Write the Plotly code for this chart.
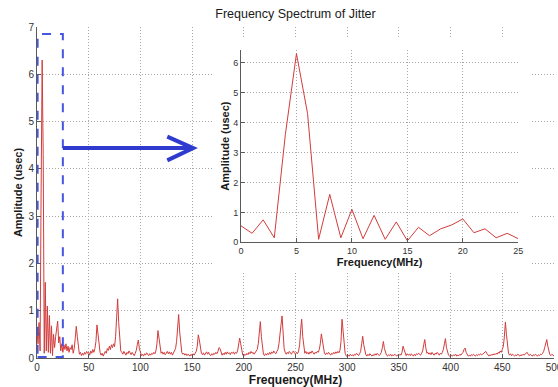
import plotly.graph_objects as go

# ---------------- data ----------------
# zoomed band 0..25 MHz (1 MHz bins)
low_band = [0.55, 0.30, 0.75, 0.15, 3.60, 6.30, 4.30, 0.10, 1.60, 0.15,
            1.10, 0.12, 0.90, 0.10, 0.68, 0.05, 0.50, 0.22, 0.45, 0.58,
            0.78, 0.32, 0.45, 0.15, 0.30, 0.12]
band_026_049 = [0.28, 0.18, 0.30, 0.15, 0.25, 0.12, 0.22, 0.18, 0.28, 0.10,
                0.20, 0.42, 0.67, 0.45, 0.20, 0.08, 0.12, 0.05, 0.10, 0.06,
                0.12, 0.08, 0.14, 0.10]
band_050_099 = [0.12, 0.06, 0.15, 0.10, 0.18, 0.12, 0.20, 0.35, 0.70, 0.50,
                0.22, 0.12, 0.06, 0.10, 0.04, 0.08, 0.14, 0.10, 0.20, 0.16,
                0.25, 0.18, 0.28, 0.22, 0.30, 0.24, 0.45, 0.85, 1.25, 0.75,
                0.30, 0.15, 0.12, 0.08, 0.14, 0.10, 0.06, 0.12, 0.09, 0.15,
                0.10, 0.07, 0.12, 0.08, 0.05, 0.10, 0.16, 0.28, 0.38, 0.20]
band_100_149 = [0.10, 0.05, 0.08, 0.04, 0.09, 0.06, 0.11, 0.07, 0.05, 0.09,
                0.06, 0.10, 0.08, 0.12, 0.09, 0.15, 0.30, 0.58, 0.42, 0.18,
                0.10, 0.13, 0.08, 0.12, 0.07, 0.10, 0.14, 0.09, 0.13, 0.08,
                0.12, 0.06, 0.10, 0.16, 0.20, 0.35, 0.70, 0.92, 0.55, 0.25,
                0.12, 0.08, 0.10, 0.06, 0.09, 0.05, 0.08, 0.06, 0.04, 0.08]
band_150_199 = [0.05, 0.09, 0.06, 0.10, 0.14, 0.25, 0.49, 0.38, 0.18, 0.10,
                0.07, 0.11, 0.06, 0.09, 0.13, 0.08, 0.12, 0.07, 0.05, 0.09,
                0.06, 0.10, 0.08, 0.12, 0.09, 0.14, 0.22, 0.20, 0.10, 0.06,
                0.10, 0.07, 0.12, 0.08, 0.13, 0.09, 0.11, 0.07, 0.12, 0.10,
                0.13, 0.08, 0.12, 0.10, 0.15, 0.25, 0.42, 0.30, 0.12, 0.06]
band_200_249 = [0.04, 0.08, 0.06, 0.10, 0.07, 0.12, 0.09, 0.14, 0.10, 0.12,
                0.08, 0.11, 0.15, 0.18, 0.30, 0.55, 0.77, 0.45, 0.18, 0.08,
                0.05, 0.09, 0.06, 0.10, 0.07, 0.12, 0.08, 0.13, 0.10, 0.15,
                0.11, 0.09, 0.14, 0.18, 0.30, 0.45, 0.70, 0.89, 0.48, 0.20,
                0.12, 0.08, 0.12, 0.09, 0.14, 0.10, 0.08, 0.12, 0.15, 0.10]
band_250_299 = [0.08, 0.12, 0.09, 0.15, 0.28, 0.60, 0.82, 0.45, 0.18, 0.10,
                0.14, 0.09, 0.12, 0.08, 0.13, 0.10, 0.15, 0.11, 0.08, 0.12,
                0.10, 0.14, 0.12, 0.18, 0.30, 0.51, 0.38, 0.16, 0.10, 0.07,
                0.11, 0.08, 0.12, 0.09, 0.06, 0.10, 0.08, 0.12, 0.09, 0.13,
                0.10, 0.14, 0.11, 0.16, 0.35, 0.82, 0.60, 0.25, 0.10, 0.05]
band_300_349 = [0.03, 0.06, 0.04, 0.08, 0.05, 0.07, 0.04, 0.08, 0.06, 0.10,
                0.07, 0.05, 0.09, 0.14, 0.30, 0.46, 0.28, 0.12, 0.07, 0.04,
                0.08, 0.05, 0.09, 0.06, 0.04, 0.07, 0.05, 0.09, 0.06, 0.10,
                0.07, 0.05, 0.08, 0.12, 0.22, 0.35, 0.20, 0.10, 0.06, 0.04,
                0.07, 0.05, 0.08, 0.04, 0.07, 0.05, 0.08, 0.06, 0.04, 0.07]
band_350_399 = [0.05, 0.08, 0.06, 0.12, 0.25, 0.18, 0.08, 0.05, 0.09, 0.06,
                0.08, 0.05, 0.09, 0.06, 0.04, 0.08, 0.05, 0.09, 0.07, 0.10,
                0.08, 0.06, 0.10, 0.15, 0.28, 0.39, 0.22, 0.10, 0.12, 0.08,
                0.11, 0.07, 0.12, 0.09, 0.06, 0.10, 0.08, 0.12, 0.09, 0.06,
                0.10, 0.08, 0.12, 0.18, 0.30, 0.41, 0.22, 0.10, 0.06, 0.04]
band_400_449 = [0.03, 0.06, 0.04, 0.07, 0.05, 0.08, 0.04, 0.06, 0.05, 0.08,
                0.06, 0.09, 0.12, 0.18, 0.21, 0.12, 0.07, 0.04, 0.06, 0.04,
                0.07, 0.05, 0.08, 0.05, 0.04, 0.07, 0.05, 0.08, 0.06, 0.09,
                0.07, 0.08, 0.10, 0.13, 0.14, 0.10, 0.06, 0.04, 0.07, 0.05,
                0.08, 0.06, 0.09, 0.07, 0.10, 0.08, 0.12, 0.10, 0.15, 0.12]
band_450_500 = [0.18, 0.25, 0.45, 0.76, 0.50, 0.22, 0.10, 0.06, 0.09, 0.05,
                0.08, 0.06, 0.04, 0.07, 0.05, 0.08, 0.06, 0.04, 0.07, 0.05,
                0.08, 0.06, 0.08, 0.10, 0.12, 0.08, 0.05, 0.08, 0.06, 0.04,
                0.07, 0.05, 0.08, 0.06, 0.04, 0.07, 0.05, 0.08, 0.07, 0.10,
                0.14, 0.22, 0.33, 0.39, 0.25, 0.12, 0.07, 0.05, 0.08, 0.06,
                0.04]

amplitude = (low_band + band_026_049 + band_050_099 + band_100_149 + band_150_199
             + band_200_249 + band_250_299 + band_300_349 + band_350_399
             + band_400_449 + band_450_500)
frequency = list(range(len(amplitude)))          # 0..500 MHz, 1 MHz bins
inset_frequency = list(range(len(low_band)))     # 0..25 MHz

main_xticks = [0, 50, 100, 150, 200, 250, 300, 350, 400, 450, 500]
main_yticks = [0, 1, 2, 3, 4, 5, 6, 7]
inset_xticks = [0, 5, 10, 15, 20, 25]
inset_yticks = [0, 1, 2, 3, 4, 5, 6]

ZOOM_X = (0, 25)       # region highlighted by dashed box (MHz)
ZOOM_YMAX = 6.85
ARROW_Y = 4.44
ARROW_X = (25, 151)

# ---------------- figure ----------------
FONT = "Liberation Sans, Arial, sans-serif"
RED = "#d23c3c"
GRID = "#a8a8a8"
AXLINE = "#5a5a5a"
TICKC = "#333333"

fig = go.Figure()
fig.add_trace(go.Scatter(x=frequency, y=amplitude, mode="lines",
                         line=dict(color=RED, width=1), xaxis="x", yaxis="y",
                         showlegend=False, hoverinfo="skip"))
# invisible cover subplot (white patch behind the inset)
fig.add_trace(go.Scatter(x=[None], y=[None], xaxis="x2", yaxis="y2",
                         showlegend=False, hoverinfo="skip"))
fig.add_trace(go.Scatter(x=inset_frequency, y=low_band, mode="lines",
                         line=dict(color=RED, width=1), xaxis="x3", yaxis="y3",
                         showlegend=False, hoverinfo="skip"))

common = dict(showgrid=True, gridcolor=GRID, griddash="1px,2px", gridwidth=1,
              showline=True, linecolor=AXLINE, linewidth=1, ticks="inside",
              ticklen=4, tickcolor=AXLINE, zeroline=False, mirror=False,
              automargin=False, ticklabeloverflow="allow")

fig.update_layout(
    width=558, height=387,
    margin=dict(l=37, r=4, t=27, b=29),
    paper_bgcolor="white", plot_bgcolor="white",
    font=dict(family=FONT, color=TICKC),
    title=dict(text="Frequency Spectrum of Jitter", x=0.5, xref="paper",
               xanchor="center", y=1 - 14 / 387, yanchor="middle",
               font=dict(size=12.5, color="#1a1a1a")),
    xaxis=dict(domain=[0, 1], range=[0, 500], tickvals=main_xticks,
               tickfont=dict(size=10), anchor="y",
               title=dict(text="<b>Frequency(MHz)</b>", font=dict(size=12, color="#1a1a1a"),
                          standoff=0), **common),
    yaxis=dict(domain=[0, 1], range=[0, 7], tickvals=main_yticks,
               tickfont=dict(size=10), anchor="x",
               title=dict(text="<b>Amplitude (usec)</b>", font=dict(size=11, color="#1a1a1a"),
                          standoff=3), **common),
    xaxis2=dict(domain=[(212 - 37) / 517, (532 - 37) / 517], range=[0, 1],
                visible=False, anchor="y2", fixedrange=True),
    yaxis2=dict(domain=[(358 - 273) / 331, (358 - 38) / 331], range=[0, 1],
                visible=False, anchor="x2", fixedrange=True),
    xaxis3=dict(domain=[(241 - 37) / 517, (518.3 - 37) / 517], range=[0, 25],
                tickvals=inset_xticks, tickfont=dict(size=9), anchor="y3",
                title=dict(text="<b>Frequency(MHz)</b>", font=dict(size=11, color="#1a1a1a"),
                           standoff=0), **common),
    yaxis3=dict(domain=[(358 - 242.3) / 331, (358 - 50) / 331], range=[0, 6.42],
                tickvals=inset_yticks, tickfont=dict(size=9), anchor="x3",
                title=dict(text="<b>Amplitude (usec)</b>", font=dict(size=11, color="#1a1a1a"),
                           standoff=1), **common),
)

shapes = [
    # white patch hiding the main grid behind the inset
    dict(type="rect", xref="x2", yref="y2", x0=-1, x1=2, y0=-1, y1=2,
         fillcolor="white", line=dict(width=0), layer="below"),
    # dashed highlight box
    dict(type="rect", xref="x", yref="y", x0=ZOOM_X[0] + 0.6, x1=ZOOM_X[1], y0=0.02, y1=ZOOM_YMAX,
         line=dict(color="#4656e0", width=2, dash="dash"), layer="above"),
    # arrow shaft
    dict(type="line", xref="x", yref="y", x0=ARROW_X[0], x1=ARROW_X[1],
         y0=ARROW_Y, y1=ARROW_Y, line=dict(color="#2f3bcf", width=4), layer="above"),
    # arrow head (open chevron)
    dict(type="path", xref="x", yref="y",
         path=f"M {ARROW_X[1] - 25},{ARROW_Y + 0.24} L {ARROW_X[1]},{ARROW_Y} L {ARROW_X[1] - 25},{ARROW_Y - 0.26}",
         line=dict(color="#2f3bcf", width=4), layer="above"),
]
fig.update_layout(shapes=shapes)

fig.write_html("out.html", config={"responsive": False, "displayModeBar": False},
               post_script="document.body.style.margin='0';document.body.style.overflow='hidden';")
